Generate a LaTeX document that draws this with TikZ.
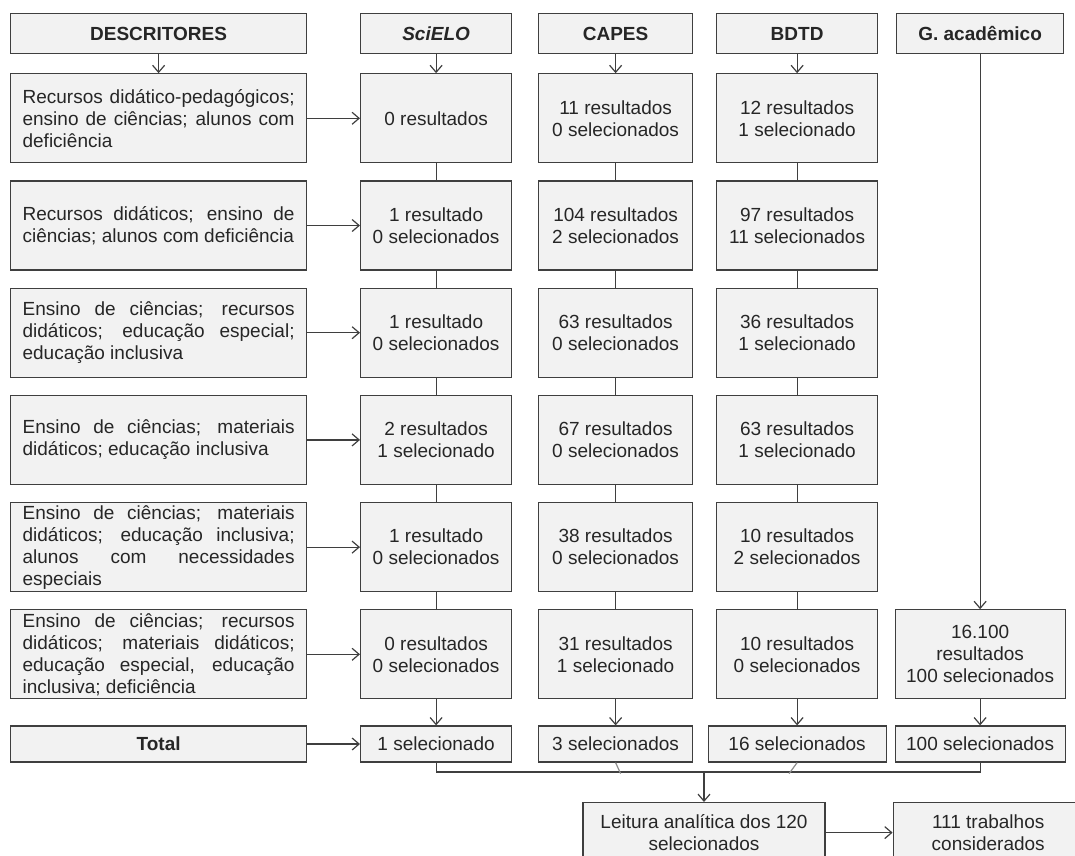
\documentclass[tikz,border=0pt]{standalone}
\usepackage{fontspec}
\setmainfont{Liberation Sans}
\usetikzlibrary{positioning, arrows.meta}
\definecolor{boxgray}{HTML}{F2F2F2}
\definecolor{linegray}{HTML}{3F3F3F}
\hyphenpenalty=10000
\tolerance=10000
\hbadness=10000

\begin{document}
\begin{tikzpicture}[x=1pt, y=-1pt]
    \tikzstyle{every node}=[
        font = \fontsize{19}{22}\selectfont,
        text = black!85
    ]
    \tikzstyle{box}=[draw=linegray, fill=boxgray, line width=1.2pt, inner xsep=4pt, inner ysep=0pt, align=center]
    \tikzstyle{head}=[box, minimum height=40pt, font=\fontsize{19}{22}\selectfont\bfseries]
    \tikzstyle{desc}=[box, minimum height=89pt, text width=272pt, inner xsep=12pt, align=justify]
    \tikzstyle{res}=[box, minimum height=89pt]
    \tikzstyle{tot}=[box, minimum height=36pt]
    \tikzstyle{line}=[draw=linegray, line width=1.2pt]
    \tikzstyle{arr}=[line, -{Straight Barb[length=7pt, width=12pt]}]
    \useasboundingbox (0,0) rectangle (1075,855);
    \node[head, minimum width=296pt, anchor=north west] (desc) at (10,13) {DESCRITORES};
    \node[head, minimum width=151pt, anchor=north west] (scielo) at (360,13) {\itshape SciELO};
    \node[head, minimum width=154pt, anchor=north west] (capes) at (538,13) {CAPES};
    \node[head, minimum width=161pt, anchor=north west] (bdtd) at (716,13) {BDTD};
    \node[head, minimum width=167pt, anchor=north west] (google) at (896,13) {G. acadêmico};
    \begin{scope}[node distance=17pt]
      \node[desc, below=19pt of desc] (d1) {Recursos didático-pedagógicos;\linebreak ensino de ciências; alunos com\linebreak deficiência};
      \node[desc, below=of d1] (d2) {Recursos didáticos; ensino de\linebreak ciências; alunos com deficiência};
      \node[desc, below=of d2] (d3) {Ensino de ciências; recursos\linebreak didáticos; educação especial;\linebreak educação inclusiva};
      \node[desc, below=of d3] (d4) {Ensino de ciências; materiais\linebreak didáticos; educação inclusiva};
      \node[desc, below=of d4] (d5) {Ensino de ciências; materiais\linebreak didáticos; educação inclusiva;\linebreak alunos com necessidades\linebreak especiais};
      \node[desc, below=of d5] (d6) {Ensino de ciências; recursos\linebreak didáticos; materiais didáticos;\linebreak educação especial, educação\linebreak inclusiva; deficiência};
      \node[tot, minimum width=296pt, below=26pt of d6, font=\fontsize{19}{22}\selectfont\bfseries] (dt) {Total};
    \end{scope}
    \node[res, minimum width=151pt] (s1) at (scielo |- d1) {0 resultados};
    \node[res, minimum width=151pt] (s2) at (scielo |- d2) {1 resultado\\0 selecionados};
    \node[res, minimum width=151pt] (s3) at (scielo |- d3) {1 resultado\\0 selecionados};
    \node[res, minimum width=151pt] (s4) at (scielo |- d4) {2 resultados\\1 selecionado};
    \node[res, minimum width=151pt] (s5) at (scielo |- d5) {1 resultado\\0 selecionados};
    \node[res, minimum width=151pt] (s6) at (scielo |- d6) {0 resultados\\0 selecionados};
    \node[res, minimum width=154pt] (c1) at (capes |- d1) {11 resultados\\0 selecionados};
    \node[res, minimum width=154pt] (c2) at (capes |- d2) {104 resultados\\2 selecionados};
    \node[res, minimum width=154pt] (c3) at (capes |- d3) {63 resultados\\0 selecionados};
    \node[res, minimum width=154pt] (c4) at (capes |- d4) {67 resultados\\0 selecionados};
    \node[res, minimum width=154pt] (c5) at (capes |- d5) {38 resultados\\0 selecionados};
    \node[res, minimum width=154pt] (c6) at (capes |- d6) {31 resultados\\1 selecionado};
    \node[res, minimum width=161pt] (b1) at (bdtd |- d1) {12 resultados\\1 selecionado};
    \node[res, minimum width=161pt] (b2) at (bdtd |- d2) {97 resultados\\11 selecionados};
    \node[res, minimum width=161pt] (b3) at (bdtd |- d3) {36 resultados\\1 selecionado};
    \node[res, minimum width=161pt] (b4) at (bdtd |- d4) {63 resultados\\1 selecionado};
    \node[res, minimum width=161pt] (b5) at (bdtd |- d5) {10 resultados\\2 selecionados};
    \node[res, minimum width=161pt] (b6) at (bdtd |- d6) {10 resultados\\0 selecionados};
    \node[res, minimum width=170pt] (g6) at (google |- d6) {16.100\\resultados\\100 selecionados};
    \node[tot, minimum width=151pt] (st) at (scielo |- dt) {1 selecionado};
    \node[tot, minimum width=154pt] (ct) at (capes |- dt) {3 selecionados};
    \node[tot, minimum width=178pt] (bt) at (bdtd |- dt) {16 selecionados};
    \node[tot, minimum width=170pt] (gt) at (google |- dt) {100 selecionados};
    \node[box, minimum width=242pt, minimum height=60pt, anchor=north] (leitura) at (704,802) {Leitura analítica dos 120\\selecionados};
    \node[box, minimum width=190pt, minimum height=60pt, right=67pt of leitura] (trab) {111 trabalhos\\considerados};
    \coordinate (bend) at (st.south |- 0,772);
    \coordinate (jn) at (leitura.north |- 0,772);
    \path[arr] (desc) edge (d1)
               (scielo) edge (s1)
               (capes) edge (c1)
               (bdtd) edge (b1)
               (google) edge (g6)
               (d1) edge (s1)
               (d2) edge (s2)
               (d3) edge (s3)
               (d4) edge (s4)
               (d5) edge (s5)
               (d6) edge (s6)
               (dt) edge (st)
               (s6) edge (st)
               (c6) edge (ct)
               (b6) edge (b6 |- bt.north)
               (g6) edge (gt)
               (leitura) edge (trab);
    \path[line] (s1) edge (s2)
                (s2) edge (s3)
                (s3) edge (s4)
                (s4) edge (s5)
                (s5) edge (s6)
                (c1) edge (c2)
                (c2) edge (c3)
                (c3) edge (c4)
                (c4) edge (c5)
                (c5) edge (c6)
                (b1) edge (b2)
                (b2) edge (b3)
                (b3) edge (b4)
                (b4) edge (b5)
                (b5) edge (b6);
    \draw[line] (st.south) -- (bend) -| (gt.south);
    \draw[arr] (jn) -- (leitura.north);
    \draw[line, draw=linegray!60] (ct.south) -- ++(5,11);
    \draw[line, draw=linegray!60] (bt.south) -- ++(-8,11);
\end{tikzpicture}
\end{document}
